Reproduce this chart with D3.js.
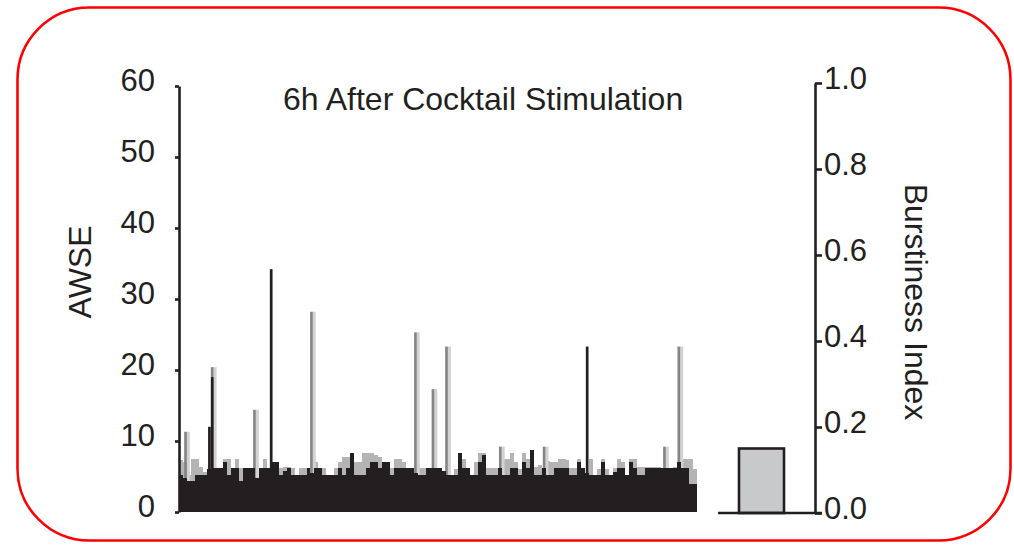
<!DOCTYPE html>
<html lang="en">
<head>
<meta charset="utf-8" />
<title>6h After Cocktail Stimulation</title>
<script src="https://d3js.org/d3.v7.min.js"></script>
<style>
    body { margin: 0; background: #fff; }
    svg text { font-family: "Liberation Sans", Arial, sans-serif; fill: #231f20; }
    .axis path, .axis line { stroke: #231f20; stroke-width: 2.6; }
</style>
</head>
<body>
<script>
    // AWSE per time bin (130 bins over 6h recording) - dark part and lighter envelope
    var awseDark = [
        5.2, 4.8, 4.3, 4.3, 5.2, 5.2, 5.2, 6.0, 6.2, 6.2,
        6.2, 7.0, 5.2, 6.2, 6.2, 4.3, 6.2, 6.2, 6.2, 4.8,
        6.2, 6.2, 6.2, 7.0, 7.0, 5.2, 5.8, 6.2, 5.2, 5.2,
        5.2, 5.2, 6.2, 5.5, 6.2, 6.2, 5.2, 5.2, 5.2, 5.2,
        6.2, 5.2, 6.2, 8.3, 5.2, 5.2, 5.2, 6.2, 7.0, 7.0,
        6.2, 7.0, 7.0, 5.2, 6.2, 6.2, 6.2, 6.2, 6.2, 5.5,
        5.2, 5.2, 6.2, 6.2, 6.2, 6.2, 5.8, 5.2, 5.2, 5.2,
        8.3, 6.2, 6.2, 5.2, 5.2, 7.0, 8.0, 5.2, 5.2, 5.2,
        6.2, 5.2, 5.2, 6.2, 6.2, 5.2, 7.0, 6.2, 8.7, 5.2,
        5.2, 6.2, 5.2, 5.2, 6.2, 6.2, 6.2, 6.2, 5.2, 5.2,
        7.0, 6.2, 5.5, 5.2, 5.2, 5.2, 7.0, 5.2, 5.2, 5.6,
        6.2, 6.2, 5.2, 7.0, 6.2, 5.2, 5.2, 6.2, 6.2, 6.2,
        6.2, 6.2, 6.2, 6.2, 6.2, 7.0, 6.2, 6.2, 4.0, 4.0
    ];
    var awseLight = [
        7.3, 7.0, 5.2, 7.5, 7.5, 6.3, 5.6, 6.0, 6.2, 6.2,
        6.2, 7.5, 7.5, 6.2, 7.5, 6.2, 6.2, 6.2, 6.2, 5.0,
        6.2, 7.5, 6.2, 7.0, 7.0, 6.2, 6.4, 6.4, 6.2, 5.2,
        6.2, 6.2, 6.2, 5.5, 7.0, 6.2, 6.2, 5.2, 5.2, 6.2,
        7.0, 7.7, 7.7, 8.3, 7.0, 7.0, 8.3, 8.3, 8.3, 8.0,
        7.7, 7.0, 7.0, 6.2, 7.5, 7.5, 7.0, 6.2, 6.2, 5.5,
        6.2, 6.2, 6.2, 6.2, 6.2, 6.2, 5.8, 5.2, 5.2, 6.0,
        8.3, 7.5, 6.2, 5.2, 7.0, 8.3, 8.3, 6.2, 6.2, 6.2,
        6.2, 7.5, 7.5, 8.3, 7.0, 6.0, 8.3, 7.5, 8.7, 6.4,
        6.6, 6.2, 7.2, 7.0, 7.0, 7.5, 7.5, 7.3, 6.2, 6.2,
        7.5, 6.2, 5.5, 7.5, 5.2, 6.0, 7.5, 6.0, 5.2, 6.2,
        7.5, 7.0, 5.2, 7.5, 7.5, 6.4, 6.4, 6.4, 6.4, 6.4,
        6.4, 6.2, 6.2, 6.2, 6.4, 7.0, 7.5, 7.5, 7.5, 6.0
    ];

    // isolated bursts (time in bins, AWSE value)
    var darkSpikeT = [7.3, 8.0, 22.8, 102.1];
    var darkSpikeV = [12, 19, 34.2, 23.3];
    var lightSpikeT = [1.3, 8.0, 18.6, 32.9, 59.0, 63.4, 66.8, 80.3, 91.3, 121.5, 125.1];
    var lightSpikeV = [11.3, 20.4, 14.4, 28.2, 25.3, 17.3, 23.3, 9.2, 9.2, 9.2, 23.3];

    // burstiness index
    var burstCats = ["6h"];
    var burstVals = [0.15];

    var leftTicks = [0, 10, 20, 30, 40, 50, 60];
    var rightTicks = [0, 0.2, 0.4, 0.6, 0.8, 1.0];

    var W = 1014, H = 546;
    var svg = d3.select("body").append("svg")
        .attr("width", W).attr("height", H);

    // red rounded frame
    svg.append("rect")
        .attr("x", 17.5).attr("y", 7.5)
        .attr("width", 993).attr("height", 533)
        .attr("rx", 72).attr("ry", 72)
        .attr("fill", "none").attr("stroke", "#ff0000").attr("stroke-width", 2.6);

    var x = d3.scaleLinear().domain([0, awseDark.length]).range([179, 697]);
    var y = d3.scaleLinear().domain([0, 60]).range([512, 86]);

    var bars = svg.append("g");
    var idx = d3.range(awseDark.length);

    bars.selectAll(".light").data(idx).enter().append("rect")
        .attr("x", function (i) { return x(i); })
        .attr("width", function (i) { return x(i + 1) - x(i); })
        .attr("y", function (i) { return y(awseLight[i]); })
        .attr("height", function (i) { return y(0) - y(awseLight[i]); })
        .attr("fill", "#b4b4b4")
        .attr("shape-rendering", "crispEdges");

    // light spikes: medium grey stripe + pale stripe
    bars.selectAll(".ls1").data(d3.range(lightSpikeT.length)).enter().append("rect")
        .attr("x", function (i) { return x(lightSpikeT[i]) + 2.7; })
        .attr("width", 3)
        .attr("y", function (i) { return y(lightSpikeV[i]); })
        .attr("height", function (i) { return y(0) - y(lightSpikeV[i]); })
        .attr("fill", "#d2d2d2");
    bars.selectAll(".ls2").data(d3.range(lightSpikeT.length)).enter().append("rect")
        .attr("x", function (i) { return x(lightSpikeT[i]); })
        .attr("width", 2.7)
        .attr("y", function (i) { return y(lightSpikeV[i]); })
        .attr("height", function (i) { return y(0) - y(lightSpikeV[i]); })
        .attr("fill", "#858585");

    bars.selectAll(".dark").data(idx).enter().append("rect")
        .attr("x", function (i) { return x(i); })
        .attr("width", function (i) { return x(i + 1) - x(i); })
        .attr("y", function (i) { return y(awseDark[i]); })
        .attr("height", function (i) { return y(0) - y(awseDark[i]); })
        .attr("fill", "#231f20")
        .attr("shape-rendering", "crispEdges");

    bars.selectAll(".ds").data(d3.range(darkSpikeT.length)).enter().append("rect")
        .attr("x", function (i) { return x(darkSpikeT[i]); })
        .attr("width", 2.7)
        .attr("y", function (i) { return y(darkSpikeV[i]); })
        .attr("height", function (i) { return y(0) - y(darkSpikeV[i]); })
        .attr("fill", "#231f20");

    // left axis
    var ax = svg.append("g").attr("class", "axis")
        .attr("transform", "translate(179,0)")
        .call(d3.axisLeft(y).tickValues(leftTicks).tickSize(4).tickSizeOuter(0).tickPadding(20));
    ax.selectAll("text").attr("font-size", 31).attr("dy", "0.13em")
        .style("font-family", "'Liberation Sans', Arial, sans-serif").attr("fill", "#231f20");

    // right panel
    var yr = d3.scaleLinear().domain([0, 1]).range([513, 83]);
    var bx = d3.scaleBand().domain(burstCats).range([739, 784]).padding(0);

    svg.append("g").selectAll("rect").data(burstCats).enter().append("rect")
        .attr("x", function (d) { return bx(d); })
        .attr("width", bx.bandwidth())
        .attr("y", function (d, i) { return yr(burstVals[i]); })
        .attr("height", function (d, i) { return yr(0) - yr(burstVals[i]); })
        .attr("fill", "#c8c9cb").attr("stroke", "#231f20").attr("stroke-width", 2.6);

    svg.append("line")
        .attr("x1", 718).attr("x2", 822)
        .attr("y1", yr(0)).attr("y2", yr(0))
        .attr("stroke", "#231f20").attr("stroke-width", 2.6);

    var ar = svg.append("g").attr("class", "axis")
        .attr("transform", "translate(815,0)")
        .call(d3.axisRight(yr).tickValues(rightTicks).tickFormat(d3.format(".1f"))
            .tickSize(7).tickSizeOuter(0).tickPadding(2));
    ar.selectAll("text").attr("font-size", 31).attr("dy", "0.19em")
        .style("font-family", "'Liberation Sans', Arial, sans-serif").attr("fill", "#231f20");

    // titles
    svg.append("text")
        .attr("x", 283).attr("y", 110)
        .attr("font-size", 32)
        .text("6h After Cocktail Stimulation");

    svg.append("text")
        .attr("text-anchor", "middle")
        .attr("transform", "translate(91,272)rotate(-90)")
        .attr("font-size", 32)
        .text("AWSE");

    svg.append("text")
        .attr("text-anchor", "middle")
        .attr("transform", "translate(905,302)rotate(90)")
        .attr("font-size", 32)
        .text("Burstiness Index");
</script>
</body>
</html>
